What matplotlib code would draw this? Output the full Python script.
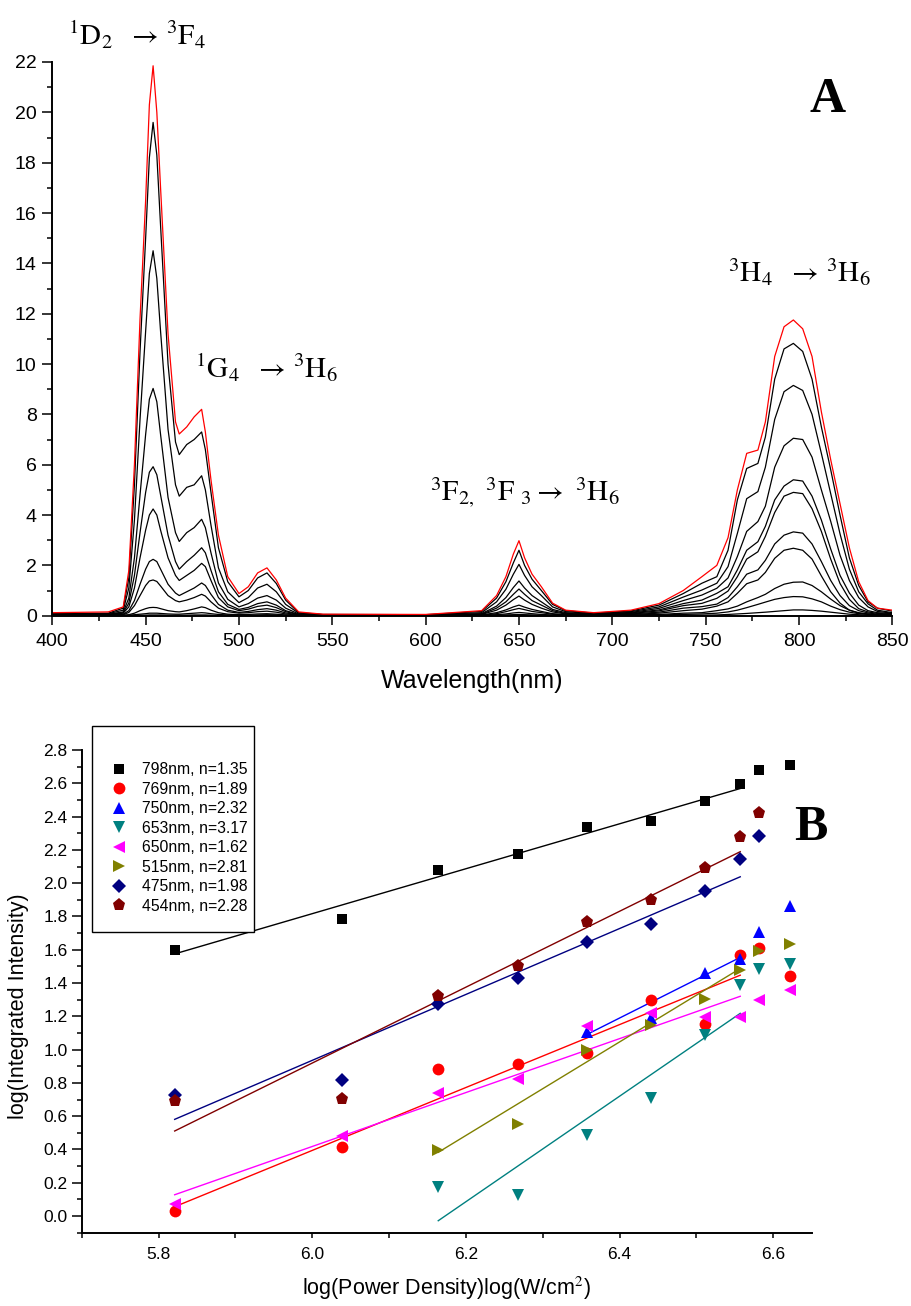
import numpy as np
import matplotlib
matplotlib.use("Agg")
import matplotlib.pyplot as plt
from matplotlib.ticker import MultipleLocator
from matplotlib.lines import Line2D
from matplotlib.patches import Rectangle

# -----------------------------
# DATA  (A) emission spectra
# -----------------------------
WAVE = [400, 430, 438, 441, 444, 447, 450, 452, 454, 456,
        458, 462, 466, 468, 472, 476, 480, 482, 485, 489,
        494, 500, 505, 510, 515, 520, 525, 532, 545, 600,
        630, 638, 643, 647, 650, 653, 657, 662, 668, 675,
        690, 710, 725, 738, 748, 756, 762, 767, 772, 778,
        782, 787, 792, 797, 802, 807, 812, 817, 822, 827,
        832, 837, 842, 850]

spec_red = [0.12, 0.15, 0.35, 1.8, 6.0, 11.8, 16.5, 20.3, 21.85, 20.0,
            17.0, 11.2, 7.7, 7.22, 7.5, 7.9, 8.2, 7.3, 5.4, 3.2,
            1.55, 0.88, 1.15, 1.7, 1.9, 1.42, 0.7, 0.15, 0.06, 0.05,
            0.2, 0.8, 1.55, 2.45, 2.98, 2.3, 1.65, 1.15, 0.5, 0.22,
            0.12, 0.22, 0.48, 1.0, 1.55, 2.0, 3.1, 5.0, 6.45, 6.58,
            7.7, 10.3, 11.48, 11.75, 11.4, 10.3, 8.1, 6.2, 4.45, 2.7,
            1.35, 0.6, 0.3, 0.22]
spec_2 = [0.08, 0.1, 0.3, 1.5, 5.2, 10.5, 15.0, 18.2, 19.6, 18.3,
          15.5, 10.0, 6.9, 6.4, 6.8, 7.0, 7.3, 6.6, 4.9, 2.7,
          1.35, 0.75, 1.0, 1.5, 1.7, 1.28, 0.62, 0.12, 0.05, 0.04,
          0.17, 0.7, 1.35, 2.1, 2.6, 2.0, 1.45, 1.0, 0.45, 0.2,
          0.1, 0.19, 0.42, 0.88, 1.29, 1.55, 2.6, 4.6, 5.85, 6.05,
          7.1, 9.4, 10.6, 10.82, 10.5, 9.4, 7.5, 5.8, 4.0, 2.3,
          1.2, 0.55, 0.3, 0.18]
spec_3 = [0.06, 0.08, 0.22, 1.1, 3.8, 7.8, 11.3, 13.6, 14.5, 13.4,
          11.3, 7.4, 5.2, 4.75, 5.1, 5.2, 5.56, 5.0, 3.6, 1.9,
          0.95, 0.52, 0.72, 1.1, 1.25, 0.95, 0.45, 0.1, 0.04, 0.03,
          0.12, 0.55, 1.05, 1.65, 2.04, 1.6, 1.15, 0.8, 0.35, 0.16,
          0.08, 0.16, 0.35, 0.74, 1.02, 1.29, 1.95, 3.27, 4.65, 4.93,
          5.9, 7.8, 8.9, 9.15, 8.95, 8.0, 6.45, 4.85, 3.25, 1.85,
          0.95, 0.47, 0.22, 0.12]
spec_4 = [0.05, 0.06, 0.15, 0.7, 2.3, 4.8, 7.2, 8.6, 9.03, 8.5,
          7.2, 4.7, 3.3, 2.95, 3.3, 3.5, 3.83, 3.5, 2.5, 1.3,
          0.65, 0.35, 0.48, 0.7, 0.8, 0.62, 0.3, 0.07, 0.03, 0.03,
          0.08, 0.38, 0.72, 1.12, 1.38, 1.1, 0.8, 0.55, 0.25, 0.12,
          0.06, 0.13, 0.29, 0.6, 0.82, 1.09, 1.5, 2.35, 3.35, 3.74,
          4.35, 5.9, 6.75, 7.05, 7.0, 6.3, 5.0, 3.75, 2.4, 1.4,
          0.72, 0.35, 0.17, 0.1]
spec_5 = [0.04, 0.05, 0.12, 0.5, 1.6, 3.3, 4.9, 5.7, 5.92, 5.6,
          4.8, 3.2, 2.15, 1.85, 2.15, 2.4, 2.7, 2.5, 1.8, 0.95,
          0.45, 0.25, 0.33, 0.48, 0.55, 0.42, 0.2, 0.05, 0.02, 0.02,
          0.06, 0.3, 0.55, 0.85, 1.06, 0.85, 0.6, 0.42, 0.2, 0.09,
          0.05, 0.11, 0.23, 0.48, 0.62, 0.89, 1.15, 1.82, 2.6, 2.94,
          3.55, 4.6, 5.15, 5.4, 5.35, 4.75, 3.8, 2.65, 1.6, 0.9,
          0.42, 0.2, 0.12, 0.08]
spec_6 = [0.03, 0.04, 0.1, 0.35, 1.1, 2.3, 3.4, 4.0, 4.24, 4.0,
          3.4, 2.3, 1.6, 1.4, 1.6, 1.8, 2.08, 1.95, 1.4, 0.72,
          0.35, 0.2, 0.26, 0.37, 0.42, 0.32, 0.16, 0.04, 0.02, 0.02,
          0.05, 0.22, 0.42, 0.64, 0.78, 0.62, 0.45, 0.3, 0.15, 0.07,
          0.04, 0.09, 0.19, 0.4, 0.49, 0.69, 0.98, 1.55, 2.25, 2.54,
          3.15, 4.1, 4.75, 4.9, 4.85, 4.25, 3.35, 2.25, 1.28, 0.65,
          0.28, 0.15, 0.09, 0.06]
spec_7 = [0.02, 0.03, 0.06, 0.2, 0.6, 1.25, 1.85, 2.15, 2.24, 2.15,
          1.85, 1.25, 0.9, 0.8, 0.95, 1.1, 1.3, 1.2, 0.85, 0.45,
          0.22, 0.13, 0.17, 0.24, 0.28, 0.22, 0.11, 0.03, 0.01, 0.01,
          0.03, 0.12, 0.23, 0.35, 0.42, 0.34, 0.25, 0.17, 0.08, 0.04,
          0.03, 0.07, 0.14, 0.3, 0.36, 0.46, 0.72, 1.15, 1.65, 1.82,
          2.2, 2.85, 3.2, 3.33, 3.28, 2.85, 2.15, 1.4, 0.8, 0.4,
          0.2, 0.11, 0.06, 0.04]
spec_8 = [0.02, 0.02, 0.04, 0.13, 0.4, 0.8, 1.2, 1.38, 1.42, 1.36,
          1.18, 0.8, 0.6, 0.55, 0.62, 0.72, 0.85, 0.78, 0.55, 0.3,
          0.16, 0.1, 0.12, 0.16, 0.18, 0.14, 0.07, 0.02, 0.01, 0.01,
          0.02, 0.08, 0.16, 0.24, 0.29, 0.24, 0.17, 0.12, 0.06, 0.03,
          0.02, 0.05, 0.1, 0.2, 0.26, 0.38, 0.55, 0.89, 1.27, 1.42,
          1.72, 2.28, 2.6, 2.68, 2.6, 2.25, 1.58, 0.95, 0.5, 0.22,
          0.1, 0.06, 0.04, 0.03]
spec_9 = [0.01, 0.01, 0.02, 0.04, 0.1, 0.2, 0.28, 0.32, 0.33, 0.32,
          0.28, 0.2, 0.16, 0.15, 0.2, 0.27, 0.35, 0.32, 0.22, 0.12,
          0.06, 0.04, 0.05, 0.07, 0.08, 0.06, 0.03, 0.01, 0.01, 0.01,
          0.01, 0.04, 0.07, 0.11, 0.13, 0.11, 0.08, 0.05, 0.03, 0.02,
          0.01, 0.03, 0.05, 0.1, 0.12, 0.2, 0.27, 0.38, 0.55, 0.72,
          0.85, 1.08, 1.25, 1.33, 1.34, 1.2, 0.95, 0.66, 0.4, 0.22,
          0.12, 0.07, 0.04, 0.03]
spec_10 = [0.01, 0.01, 0.01, 0.02, 0.04, 0.06, 0.08, 0.1, 0.1, 0.1,
           0.09, 0.07, 0.06, 0.06, 0.08, 0.1, 0.12, 0.11, 0.08, 0.05,
           0.03, 0.02, 0.02, 0.03, 0.04, 0.03, 0.02, 0.01, 0.01, 0.01,
           0.01, 0.02, 0.03, 0.04, 0.05, 0.04, 0.03, 0.02, 0.01, 0.01,
           0.01, 0.02, 0.03, 0.05, 0.07, 0.1, 0.15, 0.22, 0.32, 0.45,
           0.54, 0.65, 0.72, 0.76, 0.75, 0.67, 0.55, 0.38, 0.24, 0.14,
           0.08, 0.05, 0.03, 0.02]
spec_11 = [0.0, 0.0, 0.0, 0.01, 0.01, 0.02, 0.02, 0.03, 0.03, 0.03,
           0.03, 0.02, 0.02, 0.02, 0.02, 0.03, 0.03, 0.03, 0.02, 0.01,
           0.01, 0.0, 0.0, 0.01, 0.01, 0.01, 0.0, 0.0, 0.0, 0.0,
           0.0, 0.01, 0.01, 0.02, 0.02, 0.02, 0.01, 0.01, 0.0, 0.0,
           0.0, 0.01, 0.01, 0.02, 0.02, 0.03, 0.05, 0.07, 0.09, 0.12,
           0.14, 0.17, 0.2, 0.23, 0.23, 0.21, 0.18, 0.14, 0.1, 0.06,
           0.04, 0.02, 0.02, 0.01]

BLACK_SPECTRA = [spec_2, spec_3, spec_4, spec_5, spec_6,
                 spec_7, spec_8, spec_9, spec_10, spec_11]

# -----------------------------
# DATA  (B) power dependence
# -----------------------------
LOG_P = [5.821, 6.039, 6.164, 6.268, 6.357, 6.441, 6.511, 6.557, 6.582, 6.622]

SERIES_LABELS = ["798nm", "769nm", "750nm", "653nm",
                 "650nm", "515nm", "475nm", "454nm"]
SLOPES = [1.35, 1.89, 2.32, 3.17, 1.62, 2.81, 1.98, 2.28]

y_798 = [1.599, 1.787, 2.077, 2.177, 2.337, 2.375, 2.491, 2.593, 2.677, 2.707]
y_769 = [0.028, 0.416, 0.886, 0.911, 0.977, 1.301, 1.153, 1.568, 1.612, 1.441]
y_750 = [1.107, 1.187, 1.461, 1.542, 1.708, 1.863]
y_653 = [0.176, 0.126, 0.487, 0.708, 1.087, 1.387, 1.487, 1.514]
y_650 = [0.074, 0.483, 0.737, 0.825, 1.140, 1.217, 1.197, 1.195, 1.298, 1.357]
y_515 = [0.396, 0.556, 0.995, 1.147, 1.303, 1.477, 1.590, 1.633]
y_475 = [0.725, 0.818, 1.271, 1.431, 1.647, 1.756, 1.952, 2.145, 2.284]
y_454 = [0.690, 0.706, 1.322, 1.503, 1.768, 1.898, 2.089, 2.277, 2.419]

# first point index of each series on LOG_P
START_IDX = [0, 0, 4, 2, 0, 2, 0, 0]
SERIES_Y = [y_798, y_769, y_750, y_653, y_650, y_515, y_475, y_454]

# linear fit ranges (x start, x end) and fitted value at x start
FIT_X0 = [5.821, 5.821, 6.357, 6.164, 5.821, 6.164, 5.821, 5.821]
FIT_X1 = [6.557, 6.557, 6.557, 6.557, 6.557, 6.557, 6.557, 6.557]
FIT_Y0 = [1.575, 0.056, 1.090, -0.028, 0.128, 0.383, 0.581, 0.511]

COLORS = ["#000000", "#FF0000", "#0000FF", "#008080",
          "#FF00FF", "#808000", "#000080", "#800000"]
MARKERS = ["s", "o", "^", "v", "<", ">", "D", "p"]
MSIZES = [7.5, 8.5, 9, 9, 9, 9, 7.5, 9.5]

# -----------------------------
# FIGURE
# -----------------------------
plt.rcParams["font.family"] = ["Liberation Sans", "DejaVu Sans"]
plt.rcParams["mathtext.fontset"] = "stix"

FW, FH = 911, 1306


def fx(px):
    return px / FW


def fy(py):
    return 1 - py / FH


fig = plt.figure(figsize=(FW / 100, FH / 100), dpi=100)

# ---- panel A ----
ax1 = fig.add_axes([fx(52.3), fy(615.7), fx(892.3) - fx(52.3), fy(62) - fy(615.7)])
for spec in BLACK_SPECTRA:
    ax1.plot(WAVE, spec, color="black", lw=0.9)
ax1.plot(WAVE, spec_red, color="red", lw=0.9)

ax1.set_xlim(400, 850)
ax1.set_ylim(0, 22)
ax1.xaxis.set_major_locator(MultipleLocator(50))
ax1.xaxis.set_minor_locator(MultipleLocator(25))
ax1.yaxis.set_major_locator(MultipleLocator(2))
ax1.yaxis.set_minor_locator(MultipleLocator(1))
ax1.set_xlabel("Wavelength(nm)", fontsize=18, labelpad=13)

txt_kw = dict(fontsize=21, ha="left", va="baseline")
fig.text(fx(68), fy(45), r"$^{1}\mathrm{D}_{2}\ \ \rightarrow\,^{3}\mathrm{F}_{4}$", **txt_kw)
fig.text(fx(195), fy(378), r"$^{1}\mathrm{G}_{4}\ \ \rightarrow\,^{3}\mathrm{H}_{6}$", **txt_kw)
fig.text(fx(430), fy(501.7),
         r"$^{3}\mathrm{F}_{2,}\ ^{3}\mathrm{F}\ {}_{3}\rightarrow\ ^{3}\mathrm{H}_{6}$", **txt_kw)
fig.text(fx(728), fy(281.7), r"$^{3}\mathrm{H}_{4}\ \ \rightarrow\,^{3}\mathrm{H}_{6}$", **txt_kw)
fig.text(fx(828), fy(100), "A", fontsize=36, fontweight="bold",
         family="Liberation Serif", ha="center", va="center")

# ---- panel B ----
ax2 = fig.add_axes([fx(81.7), fy(1232.7), fx(811.7) - fx(81.7), fy(750) - fy(1232.7)])
handles = []
for i in range(len(SERIES_LABELS)):
    xs = LOG_P[START_IDX[i]:START_IDX[i] + len(SERIES_Y[i])]
    ax2.plot(xs, SERIES_Y[i], ls="none", marker=MARKERS[i], ms=MSIZES[i],
             color=COLORS[i], mew=0, zorder=3)
    fit_x = np.array([FIT_X0[i], FIT_X1[i]])
    ax2.plot(fit_x, FIT_Y0[i] + SLOPES[i] * (fit_x - FIT_X0[i]),
             color=COLORS[i], lw=1.0, zorder=2)
    handles.append(Line2D([], [], ls="none", marker=MARKERS[i], ms=MSIZES[i],
                          color=COLORS[i], mew=0))

ax2.set_xlim(5.7, 6.65)
ax2.set_ylim(-0.1, 2.8)
ax2.xaxis.set_major_locator(MultipleLocator(0.2))
ax2.xaxis.set_minor_locator(MultipleLocator(0.1))
ax2.yaxis.set_major_locator(MultipleLocator(0.2))
ax2.yaxis.set_minor_locator(MultipleLocator(0.1))
ax2.xaxis.set_major_formatter(plt.FormatStrFormatter("%.1f"))
ax2.yaxis.set_major_formatter(plt.FormatStrFormatter("%.1f"))
ax2.set_xlabel(r"log(Power Density)log(W/cm$^{2}$)", fontsize=15.5, labelpad=9)
ax2.set_ylabel("log(Integrated Intensity)", fontsize=15.5)
ax2.yaxis.set_label_coords(-0.072, 0.47)

labels = [f"{SERIES_LABELS[i]}, n={SLOPES[i]:.2f}" for i in range(len(SERIES_LABELS))]
ax2.add_patch(Rectangle((fx(92), fy(932)), fx(254) - fx(92), fy(726) - fy(932),
                        transform=fig.transFigure, facecolor="white",
                        edgecolor="black", lw=1.0, zorder=4, clip_on=False))
leg = ax2.legend(handles, labels, loc="upper left",
                 bbox_to_anchor=(fx(111.5), fy(762)), bbox_transform=fig.transFigure,
                 frameon=False, borderpad=0, borderaxespad=0, handlelength=1.0,
                 handletextpad=0.92, labelspacing=0.29, fontsize=11.3)
leg.set_zorder(5)

fig.text(fx(811), fy(828), "B", fontsize=36, fontweight="bold",
         family="Liberation Serif", ha="center", va="center")

# shared axis styling
for ax, tsize, xpad, ypad in [(ax1, 14, 6, 4), (ax2, 12.5, 7, 3)]:
    ax.spines["top"].set_visible(False)
    ax.spines["right"].set_visible(False)
    ax.spines["left"].set_linewidth(1.4)
    ax.spines["bottom"].set_linewidth(1.4)
    ax.tick_params(axis="both", which="major", direction="out", width=1.1, labelsize=tsize)
    ax.tick_params(axis="both", which="minor", direction="out", length=3.6, width=1.1)
    ax.tick_params(axis="x", which="major", pad=xpad)
    ax.tick_params(axis="y", which="major", length=7.2, pad=ypad)
ax1.tick_params(axis="x", which="major", length=6.8)
ax2.tick_params(axis="x", which="major", length=3.6)

fig.savefig("out.png", dpi=100)
